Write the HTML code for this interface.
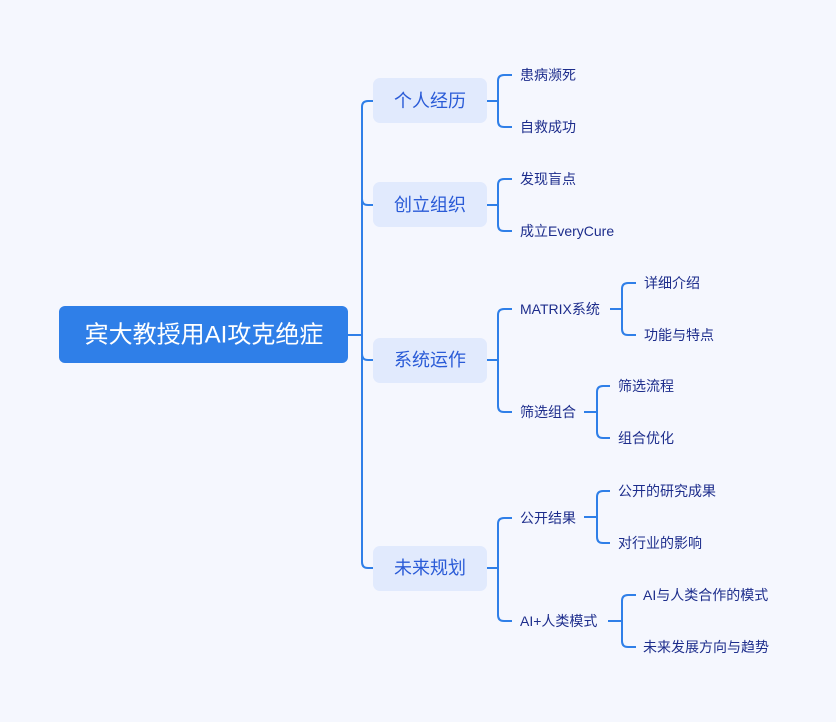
<!DOCTYPE html>
<html><head><meta charset="utf-8"><style>
html,body{margin:0;padding:0;background:#f5f7fe;}
svg{display:block}
text{font-family:"Liberation Sans","Noto Sans CJK SC",sans-serif;}
.l1{font-size:18px;fill:#2a5bd7;text-anchor:middle;dominant-baseline:central}
.lf{font-size:14px;fill:#1d2d8c;dominant-baseline:central}
path{fill:none;stroke:#2f7fe8;stroke-width:2}
</style></head><body>
<svg width="836" height="722" viewBox="0 0 836 722" xmlns="http://www.w3.org/2000/svg">
<rect width="836" height="722" fill="#f5f7fe"/>
<path d="M348 335 H362 M374 101 H368 Q362 101 362 107 V562 Q362 568 368 568 H374"/>
<path d="M362 199 Q362 205 368 205 H374 M362 354 Q362 360 368 360 H374"/>
<rect x="59" y="306" width="289" height="57" rx="6" fill="#2f7fe8"/>
<text x="204" y="335" font-size="24" fill="#fff" text-anchor="middle" dominant-baseline="central">宾大教授用AI攻克绝症</text>
<g fill="#e1eafd">
<rect x="373" y="78" width="114" height="45" rx="7"/>
<rect x="373" y="182" width="114" height="45" rx="7"/>
<rect x="373" y="338" width="114" height="45" rx="7"/>
<rect x="373" y="546" width="114" height="45" rx="7"/>
</g>
<text class="l1" x="430" y="101">个人经历</text>
<text class="l1" x="430" y="205">创立组织</text>
<text class="l1" x="430" y="360">系统运作</text>
<text class="l1" x="430" y="568">未来规划</text>
<path d="M487 101 H498 M512 75 H504 Q498 75 498 81 V121 Q498 127 504 127 H512"/>
<path d="M487 205 H498 M512 179 H504 Q498 179 498 185 V225 Q498 231 504 231 H512"/>
<path d="M487 360 H498 M512 309 H504 Q498 309 498 315 V406 Q498 412 504 412 H512"/>
<path d="M487 568 H498 M512 518 H504 Q498 518 498 524 V615 Q498 621 504 621 H512"/>
<text class="lf" x="520" y="75">患病濒死</text>
<text class="lf" x="520" y="127">自救成功</text>
<text class="lf" x="520" y="179">发现盲点</text>
<text class="lf" x="520" y="231">成立EveryCure</text>
<text class="lf" x="520" y="309">MATRIX系统</text>
<text class="lf" x="520" y="412">筛选组合</text>
<text class="lf" x="520" y="518">公开结果</text>
<text class="lf" x="520" y="621">AI+人类模式</text>
<path d="M610 309 H622 M636 283 H628 Q622 283 622 289 V329 Q622 335 628 335 H636"/>
<path d="M584 412 H597 M610 386 H603 Q597 386 597 392 V432 Q597 438 603 438 H610"/>
<path d="M584 517 H597 M610 491 H603 Q597 491 597 497 V537 Q597 543 603 543 H610"/>
<path d="M608 621 H622 M636 595 H628 Q622 595 622 601 V641 Q622 647 628 647 H636"/>
<text class="lf" x="644" y="283">详细介绍</text>
<text class="lf" x="644" y="335">功能与特点</text>
<text class="lf" x="618" y="386">筛选流程</text>
<text class="lf" x="618" y="438">组合优化</text>
<text class="lf" x="618" y="491">公开的研究成果</text>
<text class="lf" x="618" y="543">对行业的影响</text>
<text class="lf" x="643" y="595">AI与人类合作的模式</text>
<text class="lf" x="643" y="647">未来发展方向与趋势</text>
</svg>
</body></html>
